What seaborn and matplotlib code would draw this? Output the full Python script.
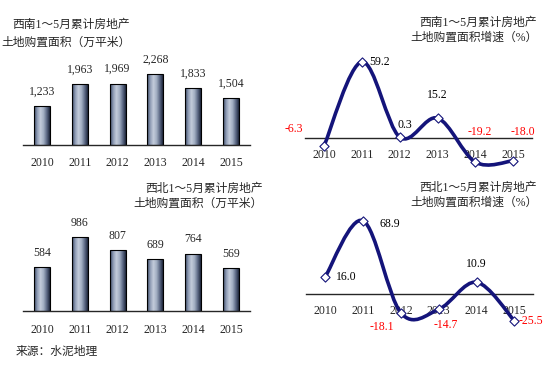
import matplotlib
matplotlib.use('Agg')
import matplotlib.pyplot as plt
import numpy as np
import pandas as pd
import seaborn as sns
from matplotlib.colors import LinearSegmentedColormap
from matplotlib.path import Path
from matplotlib.patches import PathPatch

sns.set_style('white')
plt.rcParams['font.family'] = ['Liberation Serif', 'Noto Sans CJK SC', 'DejaVu Sans']

years = ['2010', '2011', '2012', '2013', '2014', '2015']
sw_area = [1233, 1963, 1969, 2268, 1833, 1504]
nw_area = [584, 986, 807, 689, 764, 569]
sw_growth = [-6.3, 59.2, 0.3, 15.2, -19.2, -18.0]
nw_growth = [16.0, 68.9, -18.1, -14.7, 10.9, -25.5]

sw_area_title = '西南1～5月累计房地产\n土地购置面积（万平米）'
nw_area_title = '西北1～5月累计房地产\n土地购置面积（万平米）'
sw_growth_title = '西南1～5月累计房地产\n土地购置面积增速（%）'
nw_growth_title = '西北1～5月累计房地产\n土地购置面积增速（%）'
source = '来源：水泥地理'

navy = '#14147a'
red = '#ff0000'
bar_cmap = LinearSegmentedColormap.from_list(
    'cyl', ['#3a4763', '#8f9cb5', '#c3ccdb', '#a3afc3', '#5f6c88', '#1e263b'])

fig = plt.figure(figsize=(5.47, 3.66), dpi=100)


def bar_panel(rect, values):
    ax = fig.add_axes(rect)
    df = pd.DataFrame({'year': years, 'value': values})
    sns.barplot(data=df, x='year', y='value', color='#8a97ad', width=0.42,
                edgecolor='black', linewidth=0.8, ax=ax)
    grad = np.linspace(0, 1, 64).reshape(1, -1)
    for p in ax.patches:
        x0, y0 = p.get_x(), p.get_y()
        im = ax.imshow(grad, cmap=bar_cmap, aspect='auto', zorder=p.get_zorder() + 0.1,
                       extent=(x0, x0 + p.get_width(), y0, y0 + p.get_height()))
        im.set_clip_path(p)
        p.set_facecolor('none')
        p.set_zorder(p.get_zorder() + 0.2)
    ax.set_xlim(-0.5, 5.5)
    ax.set_ylim(0, max(values) * 1.2)
    for i, v in enumerate(values):
        ax.annotate(f'{v:,}', (i, v), xytext=(0, 6), textcoords='offset points',
                    ha='center', va='bottom', fontsize=8.5)
    for s in ['top', 'right', 'left']:
        ax.spines[s].set_visible(False)
    ax.spines['bottom'].set_linewidth(1.0)
    ax.set_yticks([])
    ax.set_xlabel('')
    ax.set_ylabel('')
    ax.set_xticks(range(6))
    ax.set_xticklabels(years, fontsize=8.5)
    ax.tick_params(axis='x', length=0, pad=9)
    ax.set_xticks(np.arange(-0.5, 6, 1), minor=True)
    ax.tick_params(axis='x', which='minor', direction='in', length=3, width=0.8)
    return ax


def smooth_path(xs, ys):
    # Catmull-Rom style bezier through the data points
    pts = np.column_stack([xs, ys]).astype(float)
    verts = [pts[0]]
    codes = [Path.MOVETO]
    n = len(pts)
    for i in range(n - 1):
        p0 = pts[i - 1] if i > 0 else pts[i]
        p1, p2 = pts[i], pts[i + 1]
        p3 = pts[i + 2] if i + 2 < n else pts[i + 1]
        c1 = p1 + (p2 - p0) / 6
        c2 = p2 - (p3 - p1) / 6
        verts += [c1, c2, p2]
        codes += [Path.CURVE4] * 3
    return Path(verts, codes)


def line_panel(rect, values, ylim, offsets):
    ax = fig.add_axes(rect)
    df = pd.DataFrame({'x': range(6), 'value': values})
    ax.add_patch(PathPatch(smooth_path(df['x'], df['value']), fill=False,
                           edgecolor=navy, linewidth=2.6, capstyle='round', zorder=3))
    sns.scatterplot(data=df, x='x', y='value', marker='D', s=22, color='white',
                    edgecolor=navy, linewidth=0.8, zorder=4, ax=ax)
    ax.set_xlim(-0.5, 5.5)
    ax.set_ylim(*ylim)
    for i, v in enumerate(values):
        ax.annotate(f'{v:.1f}', (i, v), xytext=offsets[i], textcoords='offset points',
                    ha='center', va='center', fontsize=8.5,
                    color=red if v < 0 else 'black')
    for s in ['top', 'right', 'left']:
        ax.spines[s].set_visible(False)
    ax.spines['bottom'].set_position(('data', 0))
    ax.spines['bottom'].set_linewidth(1.0)
    ax.set_yticks([])
    ax.set_xlabel('')
    ax.set_ylabel('')
    ax.set_xticks(range(6))
    ax.set_xticklabels(years, fontsize=8.5)
    ax.tick_params(axis='x', length=0, pad=8)
    ax.set_xticks(np.arange(-0.5, 6, 1), minor=True)
    ax.tick_params(axis='x', which='minor', direction='in', length=4, width=0.8)
    return ax


bar_panel([0.042, 0.604, 0.415, 0.232], sw_area)
bar_panel([0.042, 0.150, 0.415, 0.243], nw_area)

line_panel([0.558, 0.519, 0.415, 0.350], sw_growth, (-30, 70),
           [(-22, 12), (13, 0), (4, 9), (0, 17), (3, 22), (7, 21)])
line_panel([0.560, 0.096, 0.415, 0.333], nw_growth, (-35, 80),
           [(15, 0), (19, -2), (-14, -10), (5, -11), (0, 13), (12, 0)])

fig.text(0.238, 0.907, sw_area_title, ha='right', va='center', fontsize=8.5,
         linespacing=1.6, multialignment='right')
fig.text(0.480, 0.464, nw_area_title, ha='right', va='center', fontsize=8.5,
         linespacing=1.35, multialignment='right')
fig.text(0.982, 0.918, sw_growth_title, ha='right', va='center', fontsize=8.5,
         linespacing=1.3, multialignment='right')
fig.text(0.982, 0.467, nw_growth_title, ha='right', va='center', fontsize=8.5,
         linespacing=1.35, multialignment='right')
fig.text(0.028, 0.038, source, ha='left', va='center', fontsize=8.5)

fig.savefig('out.png', dpi=100)
